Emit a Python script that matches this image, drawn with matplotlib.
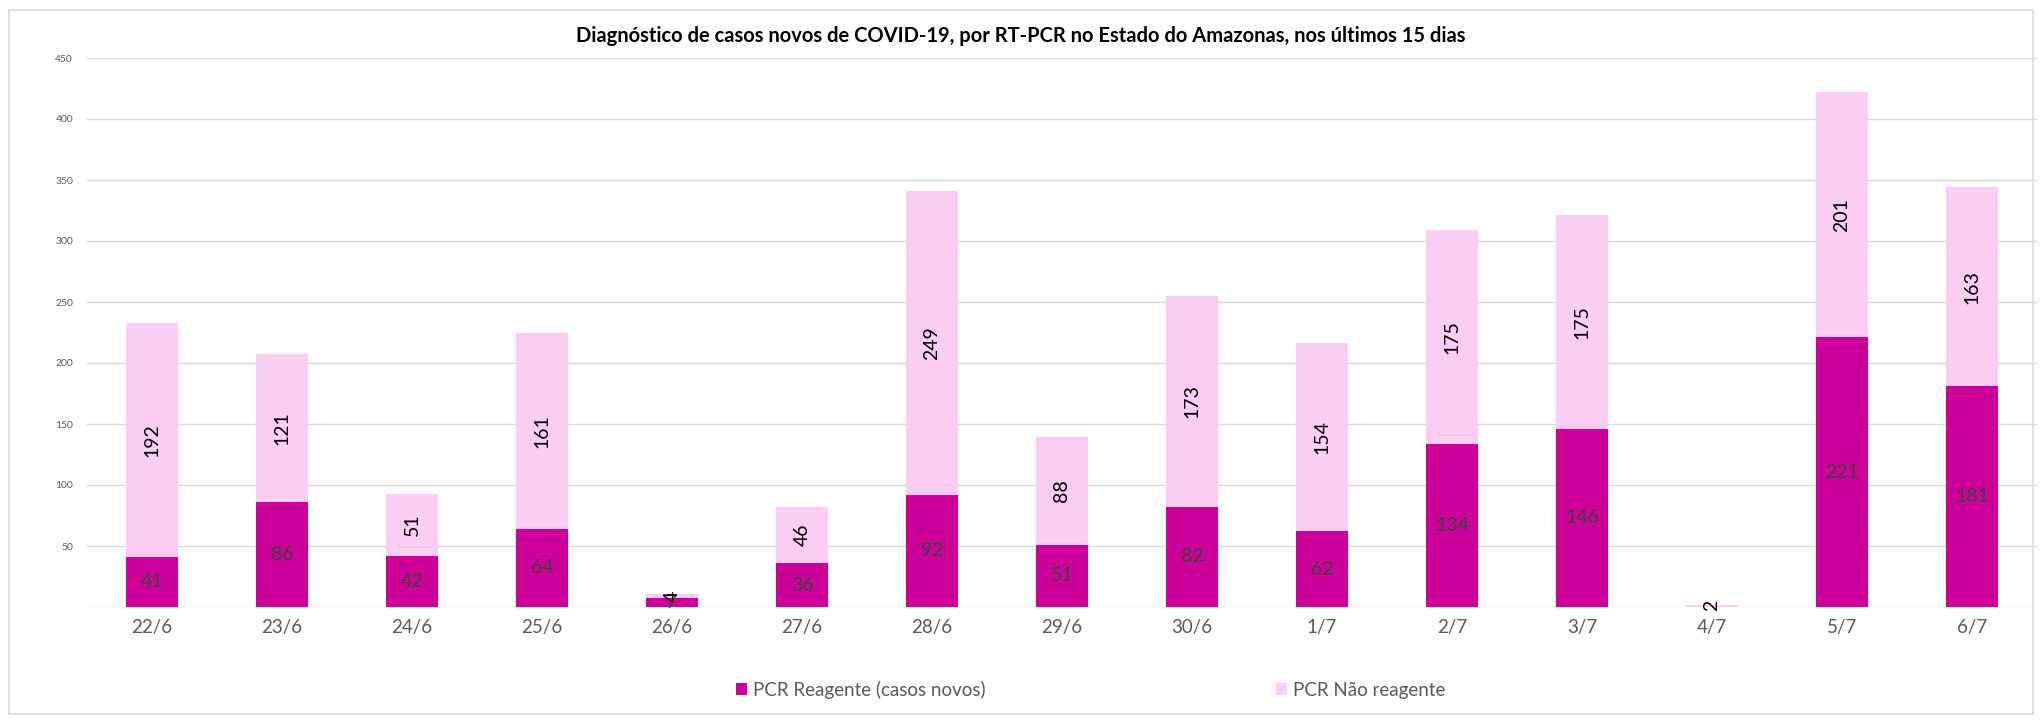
import matplotlib
matplotlib.use("Agg")
import matplotlib.pyplot as plt
from matplotlib.patches import Rectangle

dias = ["22/6", "23/6", "24/6", "25/6", "26/6", "27/6", "28/6", "29/6",
        "30/6", "1/7", "2/7", "3/7", "4/7", "5/7", "6/7"]
reagente = [41, 86, 42, 64, 7, 36, 92, 51, 82, 62, 134, 146, 0, 221, 181]
nao_reagente = [192, 121, 51, 161, 4, 46, 249, 88, 173, 154, 175, 175, 2, 201, 163]
yticks = [50, 100, 150, 200, 250, 300, 350, 400, 450]

C_REAG = "#CC0099"
C_NAO = "#FACDF2"
plt.rcParams["font.family"] = ["Lato", "DejaVu Sans"]

W, H = 2042, 722
fig = plt.figure(figsize=(W / 100, H / 100), dpi=100)
fig.patches.append(Rectangle((9 / W, 8 / H), 1 - 18 / W, 1 - 18 / H,
                             transform=fig.transFigure, fill=False,
                             ec="#D9D9D9", lw=1.2))
ax = fig.add_axes([87 / W, 1 - 607 / H, 1950 / W, 549 / H])

x = range(len(dias))
ax.bar(x, reagente, 0.4, color=C_REAG, label="PCR Reagente (casos novos)", zorder=3)
ax.bar(x, nao_reagente, 0.4, bottom=reagente, color=C_NAO,
       label="PCR Não reagente", zorder=3)

# rótulos: reagente na horizontal, não reagente girado 90°
for i, (r, n) in enumerate(zip(reagente, nao_reagente)):
    if r:
        ax.text(i, r / 2, str(r), ha="center", va="center", fontsize=14,
                color="#404040", zorder=4)
    if n:
        ax.text(i, r + n / 2, str(n), ha="center", va="center", fontsize=14,
                color="black", rotation=90, zorder=4)

ax.set_xlim(-0.5, len(dias) - 0.5)
ax.set_ylim(0, 450)
ax.set_yticks(yticks)
ax.set_xticks(list(x))
ax.set_xticklabels(dias)
ax.tick_params(axis="y", length=0, labelsize=7.5, labelcolor="#595959", pad=10)
ax.tick_params(axis="x", length=0, labelsize=13.5, labelcolor="#595959", pad=9)
ax.grid(axis="y", color="#D9D9D9", lw=1.0, zorder=0)
for s in ax.spines.values():
    s.set_visible(False)
ax.axhline(0, color="#D9D9D9", lw=1.0, zorder=1)

fig.text(0.5, 1 - 36 / H,
         "Diagnóstico de casos novos de COVID-19, por RT-PCR no Estado do Amazonas, nos últimos 15 dias",
         ha="center", va="center", fontsize=14.5, fontweight="bold")

h, l = ax.get_legend_handles_labels()
fig.legend(h, l, loc="center", bbox_to_anchor=(0.534, 1 - 690 / H), ncol=2,
           frameon=False, fontsize=13.5, handlelength=0.6, handleheight=0.6,
           handletextpad=0.3, columnspacing=15.5, labelcolor="#595959")

fig.savefig("out.png", dpi=100)
